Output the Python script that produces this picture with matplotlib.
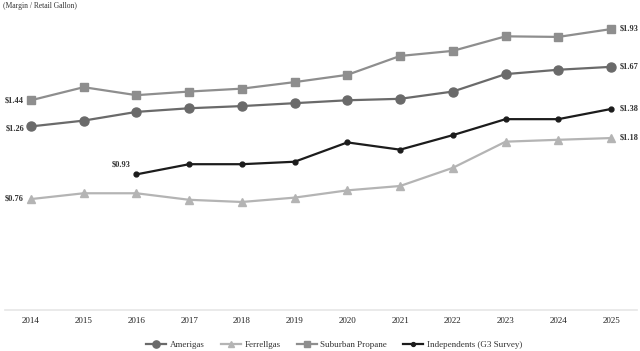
import matplotlib
matplotlib.use("Agg")
import matplotlib.pyplot as plt

years = ["2014", "2015", "2016", "2017", "2018", "2019", "2020", "2021", "2022", "2023", "2024", "2025"]
amerigas = [1.26, 1.30, 1.36, 1.385, 1.40, 1.42, 1.44, 1.45, 1.50, 1.62, 1.65, 1.67]
ferrellgas = [0.76, 0.80, 0.80, 0.755, 0.74, 0.77, 0.82, 0.85, 0.975, 1.155, 1.168, 1.18]
suburban = [1.44, 1.53, 1.475, 1.50, 1.52, 1.565, 1.615, 1.745, 1.78, 1.88, 1.876, 1.93]
indep_years = ["2016", "2017", "2018", "2019", "2020", "2021", "2022", "2023", "2024", "2025"]
independents = [0.93, 1.00, 1.00, 1.017, 1.15, 1.10, 1.20, 1.31, 1.31, 1.38]

plt.rcParams['font.family'] = ['Liberation Serif', 'DejaVu Serif']

fig = plt.figure(figsize=(6.4, 3.51), dpi=100)
ax = fig.add_axes([4.6/640, (351-309.5)/351, 632.8/640, 290.6/351])

x = list(range(len(years)))
xi = [years.index(y) for y in indep_years]

c_am = "#6a6a6a"
c_fe = "#b4b4b4"
c_su = "#8e8e8e"
c_in = "#1c1c1c"

ax.plot(x, amerigas, color=c_am, lw=1.6, marker='o', ms=6.5, label="Amerigas")
ax.plot(x, ferrellgas, color=c_fe, lw=1.6, marker='^', ms=6, label="Ferrellgas")
ax.plot(x, suburban, color=c_su, lw=1.6, marker='s', ms=6, label="Suburban Propane")
ax.plot(xi, independents, color=c_in, lw=1.6, marker='o', ms=3.5, label="Independents (G3 Survey)")

ax.set_xlim(-0.5, len(years) - 0.5)
ax.set_ylim(0, 2.0)
ax.set_xticks(x)
ax.set_xticklabels(years, fontsize=6.5, color="#222222")
ax.set_yticks([])
for s in ['top', 'right', 'left']:
    ax.spines[s].set_visible(False)
ax.spines['bottom'].set_color("#e6e6e6")
ax.spines['bottom'].set_linewidth(1.2)
ax.tick_params(axis='x', length=0, pad=5.5)

lab = dict(fontsize=6, fontweight='bold', color="#333333", va='center')
ax.annotate("$%.2f" % suburban[0], (x[0], suburban[0]), xytext=(-5, 0), textcoords='offset points', ha='right', **lab)
ax.annotate("$%.2f" % amerigas[0], (x[0], amerigas[0]), xytext=(-5, -1.5), textcoords='offset points', ha='right', **lab)
ax.annotate("$%.2f" % ferrellgas[0], (x[0], ferrellgas[0]), xytext=(-5, 0.5), textcoords='offset points', ha='right', **lab)
ax.annotate("$%.2f" % independents[0], (xi[0], independents[0]), xytext=(-4, 7), textcoords='offset points', ha='right', **lab)
ax.annotate("$%.2f" % suburban[-1], (x[-1], suburban[-1]), xytext=(6, 0.5), textcoords='offset points', ha='left', **lab)
ax.annotate("$%.2f" % amerigas[-1], (x[-1], amerigas[-1]), xytext=(6, 0.5), textcoords='offset points', ha='left', **lab)
ax.annotate("$%.2f" % independents[-1], (x[-1], independents[-1]), xytext=(6, 0.5), textcoords='offset points', ha='left', **lab)
ax.annotate("$%.2f" % ferrellgas[-1], (x[-1], ferrellgas[-1]), xytext=(6, 0.5), textcoords='offset points', ha='left', **lab)

fig.text(3/640, 1 - 6/351, "(Margin / Retail Gallon)", fontsize=5.5, color="#333333", va='center', ha='left')

fig.legend(loc='center', bbox_to_anchor=(0.522, 1 - 345/351), ncol=4, frameon=False,
           fontsize=6.5, handlelength=2.2, handletextpad=0.4, columnspacing=1.8,
           labelcolor="#333333", markerscale=0.8)

fig.savefig("out.png", dpi=100)
